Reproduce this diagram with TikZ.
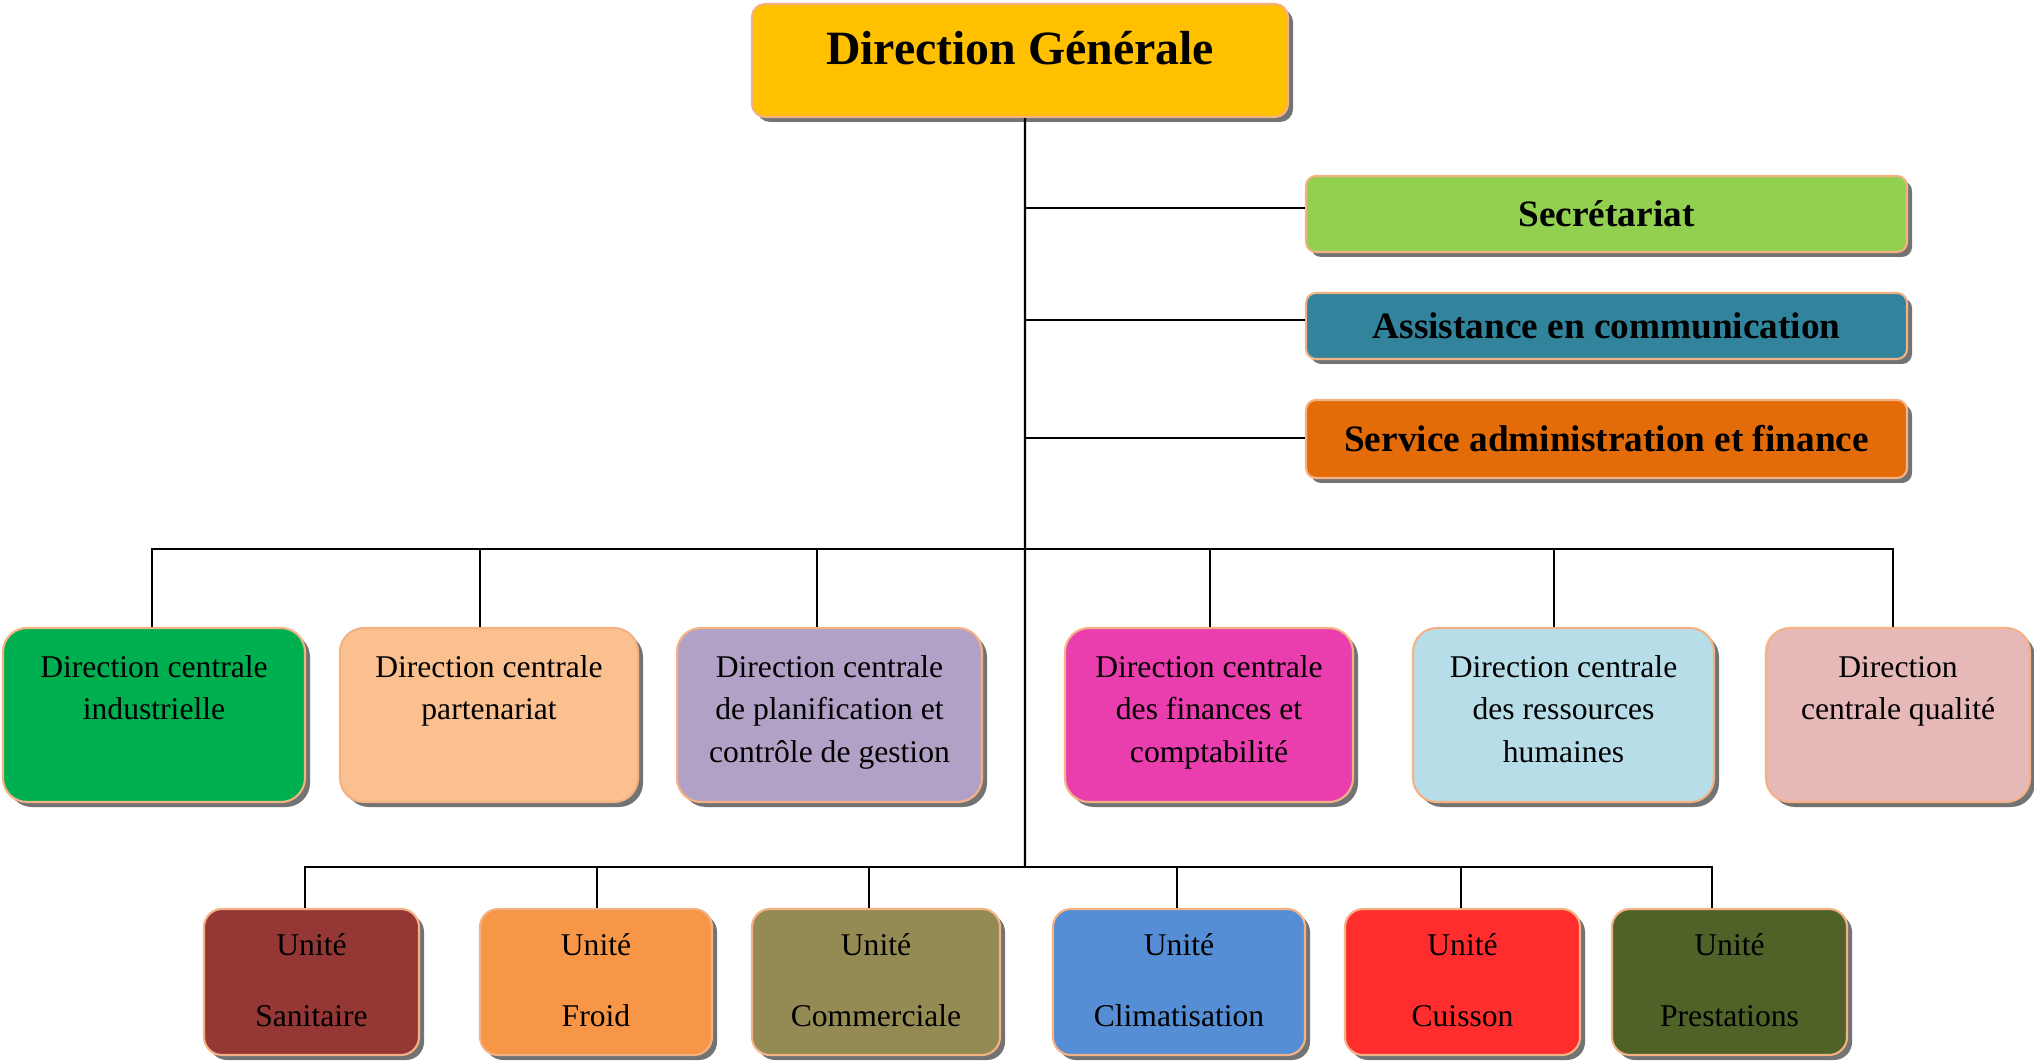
\documentclass[tikz,border=0pt]{standalone}
\usepackage{fontspec}
\setmainfont{Liberation Serif}
\usetikzlibrary{shadows}

\definecolor{dgjaune}{HTML}{FFC000}
\definecolor{secvert}{HTML}{92D050}
\definecolor{asbleu}{HTML}{31849B}
\definecolor{saorange}{HTML}{E36C09}
\definecolor{bordpeche}{HTML}{F4B183}
\definecolor{dcvert}{HTML}{00B050}
\definecolor{dcpeche}{HTML}{FAC090}
\definecolor{dcmauve}{HTML}{B2A1C7}
\definecolor{dcrose}{HTML}{EA3DAE}
\definecolor{dcciel}{HTML}{B7DEE8}
\definecolor{dcpale}{HTML}{E6B8B7}
\definecolor{ubrun}{HTML}{953735}
\definecolor{uorange}{HTML}{F79646}
\definecolor{uolive}{HTML}{948A54}
\definecolor{ubleu}{HTML}{558ED5}
\definecolor{urouge}{HTML}{FF2D2D}
\definecolor{uvert}{HTML}{4F6228}

\newcommand{\bloc}[2][26mm]{\parbox[t]{#1}{\centering #2}}

\begin{document}
\begin{tikzpicture}[x=0.1mm, y=-0.1mm,
        boite/.style={draw=bordpeche, line width=0.6pt, inner sep=0pt,
            drop shadow={shadow xshift=0.5mm, shadow yshift=-0.5mm, fill=black!55, opacity=1}},
        dgboite/.style={boite, fill=dgjaune, rounded corners=1.3mm, minimum width=53.6mm,
            text height=6.1mm, text depth=5.2mm,
            font=\fontsize{13.6pt}{16pt}\selectfont\bfseries},
        service/.style={boite, rounded corners=1mm, minimum width=60.1mm,
            font=\fontsize{10.6pt}{13pt}\selectfont\bfseries},
        dcentrale/.style={boite, rounded corners=2.4mm, text height=4.9mm, text depth=12.5mm,
            font=\fontsize{9pt}{12.2pt}\selectfont},
        unite/.style={boite, rounded corners=1.8mm, text height=4.6mm, text depth=10mm,
            font=\fontsize{9pt}{20.3pt}\selectfont},
        lien/.style={line width=0.6pt}]
    \useasboundingbox (0,0) rectangle (2034,1062);

    % direction et services rattaches
    \node[dgboite] (dg) at (1020,60.5) {Direction Générale};
    \node[service, fill=secvert, minimum height=7.6mm] (sec) at (1606.5,214) {Secrétariat};
    \node[service, fill=asbleu, minimum height=6.6mm] (asc) at (1606.5,326) {Assistance en communication};
    \node[service, fill=saorange, minimum height=7.8mm] (saf) at (1606.5,439) {Service administration et finance};

    % directions centrales
    \node[dcentrale, fill=dcvert, minimum width=30.2mm] (dci) at (154,715) {\bloc{Direction centrale\\industrielle}};
    \node[dcentrale, fill=dcpeche, minimum width=29.8mm] (dcp) at (489,715) {\bloc{Direction centrale\\partenariat}};
    \node[dcentrale, fill=dcmauve, minimum width=30.5mm] (dcg) at (829.5,715) {\bloc{Direction centrale\\de planification et\\contrôle de gestion}};
    \node[dcentrale, fill=dcrose, minimum width=28.8mm] (dcf) at (1209,715) {\bloc{Direction centrale\\des finances et\\comptabilité}};
    \node[dcentrale, fill=dcciel, minimum width=30.1mm] (dcr) at (1563.5,715) {\bloc{Direction centrale\\des ressources\\humaines}};
    \node[dcentrale, fill=dcpale, minimum width=26.4mm] (dcq) at (1898,715) {\bloc{Direction\\centrale qualité}};

    % unites
    \node[unite, fill=ubrun, minimum width=21.5mm] (us) at (311.5,982) {\bloc[19mm]{Unité\\Sanitaire}};
    \node[unite, fill=uorange, minimum width=23.2mm] (uf) at (596,982) {\bloc[19mm]{Unité\\Froid}};
    \node[unite, fill=uolive, minimum width=24.8mm] (uc) at (876,982) {\bloc[19mm]{Unité\\Commerciale}};
    \node[unite, fill=ubleu, minimum width=25.2mm] (ucl) at (1179,982) {\bloc[19mm]{Unité\\Climatisation}};
    \node[unite, fill=urouge, minimum width=23.5mm] (ucu) at (1462.5,982) {\bloc[19mm]{Unité\\Cuisson}};
    \node[unite, fill=uvert, minimum width=23.5mm] (up) at (1729.5,982) {\bloc[19mm]{Unité\\Prestations}};

    % liaisons
    \coordinate (bus1) at (1025,549);
    \coordinate (bus2) at (1025,867);
    \draw[lien] ([xshift=0.5mm]dg.south) -- (bus2);
    \foreach \n/\y in {sec/0.6, asc/0.6, saf/0.1}
        \draw[lien] ([yshift=\y mm]\n.west) -- ([yshift=\y mm]\n.west -| bus1);
    \foreach \n/\dx in {dci/-0.2, dcp/-0.9, dcg/-1.25, dcf/0.1, dcr/-0.95, dcq/-0.5}
        \draw[lien] ([xshift=\dx mm]\n.north) |- (bus1);
    \foreach \n/\dx in {us/-0.65, uf/0.1, uc/-0.7, ucl/-0.2, ucu/-0.15, up/-1.75}
        \draw[lien] ([xshift=\dx mm]\n.north) |- (bus2);
\end{tikzpicture}
\end{document}
